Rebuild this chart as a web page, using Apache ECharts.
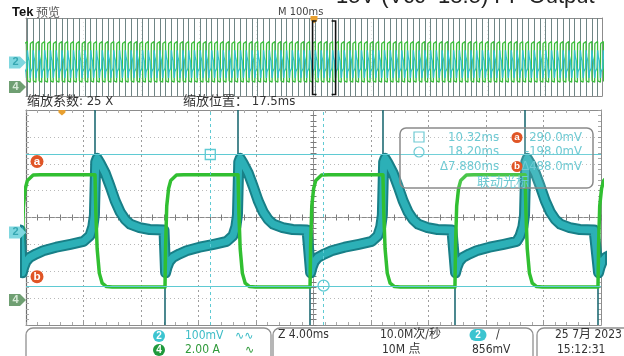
<!DOCTYPE html>
<html>
<head>
<meta charset="utf-8">
<script src="https://cdn.jsdelivr.net/npm/echarts@6/dist/echarts.min.js"></script>
<style>
  html, body { margin: 0; padding: 0; background: #fff; }
  #chart { width: 624px; height: 356px; }
</style>
</head>
<body>
<div id="chart"></div>
<script>
// scope settings
const ch2Scale = 100      // mV/div
const ch2Offset = -0.556  // div from centre
const ch4Scale = 2.0      // A/div
const ch4Offset = -3.07
const mainDiv = 4.0       // ms/div (zoom)
const overviewDiv = 100   // ms/div
const zoomPos = 17.5      // ms, zoom window centre after trigger
const period = 10.0       // ms, switching period seen in the overview
const riseLag = 5.0       // ms, green fall -> green rise

// edge times in the zoom window, ms from its centre
const fallEdges = [-25.2, -15.2, -5.25, 4.83, 14.72, 24.7]   // green falls, ch2 steps up
const riseEdges = [-20.3, -10.33, -0.24, 9.84, 19.79]        // green rises, ch2 drops

// ch2 (mV) around a green falling edge [dt ms, mV]
const cyanStepShape = [
  [-0.35, -12], [-0.15, 22], [-0.04, 65],
  [0.05, 262], [0.15, 276], [0.35, 258], [0.7, 222], [1.05, 172], [1.4, 118],
  [1.75, 76], [2.1, 48], [2.45, 31], [3.1, 18], [3.8, 11], [4.8, 9]
]
// ch2 (mV) after a green rising edge
const cyanDipShape = [
  [0.04, -150], [0.15, -128], [0.3, -108], [0.55, -93], [1.0, -80],
  [1.5, -68], [2.4, -55], [3.4, -44], [4.3, -33]
]
// ch4 (A)
const greenFallShape = [[0, 9.33], [0.06, 6.5], [0.15, 3.8], [0.3, 2.0], [0.5, 1.25], [0.8, 1.0], [1.2, 0.96]]
const greenRiseShape = [[0, 0.96], [0.04, 4.0], [0.12, 7.0], [0.25, 8.3], [0.4, 8.9], [0.8, 9.3], [1.3, 9.33]]

// overview ch2 as drawn (decimated)
const ovCyanStepShape = [[-0.3, -40], [0.1, 125], [1.2, 60], [3.0, 15], [4.6, 5]]
const ovCyanDipShape = [[0.1, -160], [1.0, -95], [4.0, -60]]

const spikeTop = 65     // mV where the ch2 step spike starts
const plateau = 9       // mV where the ch2 drop spike starts

const cursorTimes = [10.32, 18.20]    // ms after trigger
const cursorLevels = [290.0, -198.0]  // mV

const toDiv = (v, scale, offset) => offset + v / scale

function buildTrace(falls, rises, fallShape, riseShape, scale, offset) {
  const pts = []
  falls.forEach(t => fallShape.forEach(p => pts.push([t + p[0], toDiv(p[1], scale, offset)])))
  rises.forEach(t => riseShape.forEach(p => pts.push([t + p[0], toDiv(p[1], scale, offset)])))
  pts.sort((a, b) => a[0] - b[0])
  return pts
}

// main window
const mainCyan = buildTrace(fallEdges, riseEdges, cyanStepShape, cyanDipShape, ch2Scale, ch2Offset)
const mainGreen = buildTrace(fallEdges, riseEdges, greenFallShape, greenRiseShape, ch4Scale, ch4Offset)
const mainSpikes = []
fallEdges.forEach(t => mainSpikes.push({ coords: [[t, 4], [t, toDiv(spikeTop, ch2Scale, ch2Offset)]] }))
riseEdges.forEach(t => mainSpikes.push({ coords: [[t, toDiv(plateau, ch2Scale, ch2Offset)], [t, -4]] }))

// overview: same cycle repeated every period, times after trigger
const ovFirstFall = fallEdges[1] + zoomPos
const ovFalls = []
const ovRises = []
for (let k = -51; k <= 50; k++) {
  ovFalls.push(ovFirstFall + k * period)
  ovRises.push(ovFirstFall + k * period + riseLag)
}
const ovCyan = buildTrace(ovFalls, ovRises, ovCyanStepShape, ovCyanDipShape, ch2Scale, ch2Offset)
const ovGreen = buildTrace(ovFalls, ovRises, greenFallShape, greenRiseShape, ch4Scale, ch4Offset)
const ovSpikes = ovFalls.filter(t => t > -500 && t < 500).map(t => ({ coords: [[t, -4], [t, 4]] }))

const cursorX = cursorTimes.map(t => t - zoomPos)
const cursorY = cursorLevels.map(v => toDiv(v, ch2Scale, ch2Offset))

const cursorColor = '#5fcad3'
const narrow = "'Liberation Sans Narrow','DejaVu Sans Condensed','Noto Sans CJK SC',sans-serif"

function borderAxis(gridIndex, position, min, max, interval, extra) {
  return Object.assign({
    type: 'value', gridIndex, position, min, max, interval,
    axisLine: { show: true, onZero: false, lineStyle: { color: '#8c8c8c', width: 1 } },
    axisTick: { show: false },
    axisLabel: { show: false },
    splitLine: { show: false }
  }, extra)
}

const borderTicks = {
  axisTick: { show: true, inside: true, length: 3, lineStyle: { color: '#999' } },
  minorTick: { show: true, splitNumber: 5, length: 3, lineStyle: { color: '#aaa' } }
}

function centreAxis(gridIndex, position, min, max, interval, onZeroIndex, inside) {
  return {
    type: 'value', gridIndex, position, min, max, interval,
    axisLine: { show: true, onZero: true, onZeroAxisIndex: onZeroIndex, lineStyle: { color: '#8a8a8a', type: [4, 2] } },
    axisTick: { show: true, inside, length: 3, lineStyle: { color: '#7a7a7a' } },
    minorTick: { show: true, splitNumber: 5, length: 3, lineStyle: { color: '#7a7a7a' } },
    axisLabel: { show: false },
    splitLine: { show: false }
  }
}

const option = {
  animation: false,
  backgroundColor: '#ffffff',
  grid: [
    { left: 26, top: 18, width: 576, height: 78, outerBoundsMode: 'none' },
    { left: 26, top: 110, width: 575, height: 215, outerBoundsMode: 'none' }
  ],
  xAxis: [
    borderAxis(0, 'bottom', -5 * overviewDiv, 5 * overviewDiv, overviewDiv, {
      splitLine: { show: true, lineStyle: { color: '#e2e2e2', type: [1, 3] } }
    }),
    borderAxis(0, 'top', -5 * overviewDiv, 5 * overviewDiv, overviewDiv),
    borderAxis(1, 'bottom', -5 * mainDiv, 5 * mainDiv, mainDiv, Object.assign({
      splitLine: { show: true, lineStyle: { color: '#9c9c9c', type: [2, 3] } }
    }, borderTicks)),
    borderAxis(1, 'top', -5 * mainDiv, 5 * mainDiv, mainDiv, borderTicks),
    centreAxis(1, 'bottom', -5 * mainDiv, 5 * mainDiv, mainDiv, 2, true),
    centreAxis(1, 'bottom', -5 * mainDiv, 5 * mainDiv, mainDiv, 2, false)
  ],
  yAxis: [
    borderAxis(0, 'left', -4, 4, 1),
    borderAxis(0, 'right', -4, 4, 1),
    borderAxis(1, 'left', -4, 4, 1, Object.assign({
      axisLine: { show: true, onZero: false, lineStyle: { color: '#6e6e6e', width: 1.2 } },
      splitLine: { show: true, lineStyle: { color: '#b9b9b9', type: [1, 3] } }
    }, borderTicks)),
    borderAxis(1, 'right', -4, 4, 1, borderTicks),
    centreAxis(1, 'left', -4, 4, 1, 2, true),
    centreAxis(1, 'left', -4, 4, 1, 2, false)
  ],
  series: [
    {
      type: 'lines', coordinateSystem: 'cartesian2d', xAxisIndex: 0, yAxisIndex: 0,
      data: ovSpikes, silent: true, lineStyle: { color: '#6f8585', width: 1, opacity: 1 }
    },
    {
      type: 'line', xAxisIndex: 0, yAxisIndex: 0, data: ovGreen, symbol: 'none', silent: true,
      lineStyle: { color: '#3cbd3c', width: 1.3 }
    },
    {
      type: 'line', xAxisIndex: 0, yAxisIndex: 0, data: ovCyan, symbol: 'none', silent: true,
      lineStyle: { color: '#34c2cb', width: 1.4 }
    },
    {
      type: 'line', xAxisIndex: 2, yAxisIndex: 2, data: mainCyan, symbol: 'none', silent: true,
      lineStyle: { color: '#187f87', width: 11, join: 'round', cap: 'round' }
    },
    {
      type: 'line', xAxisIndex: 2, yAxisIndex: 2, data: mainCyan, symbol: 'none', silent: true,
      lineStyle: { color: '#2cb0b7', width: 7, join: 'round', cap: 'round' }
    },
    {
      type: 'lines', coordinateSystem: 'cartesian2d', xAxisIndex: 2, yAxisIndex: 2,
      data: mainSpikes, silent: true, lineStyle: { color: '#1f6b74', width: 1.6, opacity: 1 }
    },
    {
      type: 'line', xAxisIndex: 2, yAxisIndex: 2, data: mainGreen, symbol: 'none', silent: true,
      lineStyle: { color: '#31bf31', width: 3.5, join: 'round' },
      markLine: {
        silent: true, symbol: 'none', label: { show: false },
        data: [
          { yAxis: cursorY[0], lineStyle: { color: cursorColor, width: 1, type: 'solid' } },
          { yAxis: cursorY[1], lineStyle: { color: cursorColor, width: 1, type: 'solid' } },
          { xAxis: cursorX[0], lineStyle: { color: cursorColor, width: 1, type: [3, 3] } },
          { xAxis: cursorX[1], lineStyle: { color: cursorColor, width: 1, type: [3, 3] } }
        ]
      },
      markPoint: {
        silent: true, label: { show: false },
        itemStyle: { color: 'rgba(0,0,0,0)', borderColor: cursorColor, borderWidth: 1.3 },
        data: [
          { coord: [cursorX[0], cursorY[0]], symbol: 'rect', symbolSize: 10 },
          { coord: [cursorX[1], cursorY[1]], symbol: 'circle', symbolSize: 11 }
        ]
      }
    }
  ]
}

const chart = echarts.init(document.getElementById('chart'), null, { renderer: 'canvas' })
chart.setOption(option)

// overlay: labels, readout and status bar
const ovPx = (x, y) => chart.convertToPixel({ seriesIndex: 1 }, [x, y])
const mainPx = (x, y) => chart.convertToPixel({ seriesIndex: 6 }, [x, y])

function text(str, x, y, font, fill, align) {
  return { type: 'text', x, y, z: 100, silent: true,
    style: { text: str, font, fill, align: align || 'left', verticalAlign: 'middle' } }
}
function chanTag(num, x0, y, fill, textFill) {
  return [
    { type: 'polygon', z: 100, shape: { points: [[x0, y - 6], [x0 + 11, y - 6], [x0 + 17, y], [x0 + 11, y + 6], [x0, y + 6]] }, style: { fill } },
    text(num, x0 + 6.5, y, "bold 11px 'Liberation Sans',sans-serif", textFill, 'center')
  ]
}
function dot(letter, cx, cy, r) {
  return [
    { type: 'circle', z: 100, shape: { cx, cy, r }, style: { fill: '#e05526' } },
    text(letter, cx, cy, "bold " + (r * 1.8) + "px 'Liberation Sans',sans-serif", '#fff', 'center')
  ]
}
function pill(num, x, y, w, fill) {
  return [
    { type: 'rect', z: 100, shape: { x: x - w / 2, y: y - 6, width: w, height: 12, r: 6 }, style: { fill } },
    text(num, x, y, "bold 10px 'Liberation Sans',sans-serif", '#fff', 'center')
  ]
}
function box(x, y, w, h) {
  return { type: 'rect', z: 90, shape: { x, y, width: w, height: h, r: 7 },
    style: { fill: 'none', stroke: '#909090', lineWidth: 1.3 } }
}

const g = []
const ch2Ov = ovPx(0, ch2Offset)[1]
const ch4Ov = ovPx(0, ch4Offset)[1]
const ch2Main = mainPx(0, ch2Offset)[1]
const ch4Main = mainPx(0, ch4Offset)[1]

// big title cut by the top edge
g.push({ type: 'text', x: 336, y: 8, z: 100, silent: true,
  style: { text: '15V (Vcc=18.5) PF Output', font: "22px 'Liberation Sans',sans-serif", fill: '#222', align: 'left', verticalAlign: 'bottom' } })
g.push(text('Tek', 12, 12, "bold 13px 'Liberation Sans',sans-serif", '#111'))
g.push(text('预览', 36, 12, "12px 'Noto Sans CJK SC',sans-serif", '#555'))
g.push(text('M ' + overviewDiv + 'ms', 278, 12, "11px " + narrow, '#444'))

// trigger marks
const trigOv = ovPx(0, 4)
g.push({ type: 'polygon', z: 100, shape: { points: [[trigOv[0] - 3.5, trigOv[1] - 2], [trigOv[0] + 3.5, trigOv[1] - 2], [trigOv[0] + 3.5, trigOv[1] + 2], [trigOv[0], trigOv[1] + 5.5], [trigOv[0] - 3.5, trigOv[1] + 2]] }, style: { fill: '#e8a030' } })
const trigMain = mainPx(-zoomPos, 4)
g.push({ type: 'polygon', z: 100, shape: { points: [[trigMain[0] - 3.5, trigMain[1]], [trigMain[0] + 3.5, trigMain[1]], [trigMain[0] + 3.5, trigMain[1] + 2.5], [trigMain[0], trigMain[1] + 5.5], [trigMain[0] - 3.5, trigMain[1] + 2.5]] }, style: { fill: '#e8a030' } })

// zoom window brackets in the overview
const bl = ovPx(zoomPos - 5 * mainDiv, 4)
const br = ovPx(zoomPos + 5 * mainDiv, -4)
const bTop = bl[1] + 3
const bBot = br[1] - 1.5
g.push({ type: 'polyline', z: 100, shape: { points: [[bl[0] + 4, bTop], [bl[0], bTop], [bl[0], bBot], [bl[0] + 4, bBot]] }, style: { stroke: '#111', lineWidth: 1.6, fill: 'none' } })
g.push({ type: 'polyline', z: 100, shape: { points: [[br[0] - 4, bTop], [br[0], bTop], [br[0], bBot], [br[0] - 4, bBot]] }, style: { stroke: '#111', lineWidth: 1.6, fill: 'none' } })

// channel tags
g.push(...chanTag('2', 9, ch2Ov, '#7fd7df', '#36a7b2'))
g.push(...chanTag('4', 9, ch4Ov, '#6f9f72', '#d8ead8'))
g.push(...chanTag('2', 9, ch2Main, '#7fd7df', '#36a7b2'))
g.push(...chanTag('4', 9, ch4Main, '#6f9f72', '#d8ead8'))

// zoom info row
const zoomFactor = overviewDiv / mainDiv
g.push(text('缩放系数: ' + zoomFactor + ' X', 27, 102, "13px " + narrow, '#333'))
g.push(text('缩放位置： ' + zoomPos + 'ms', 183, 102, "13px " + narrow, '#333'))

// cursor a / b tags on the left
g.push(...dot('a', 37, mainPx(0, cursorY[0])[1] + 7, 6.5))
g.push(...dot('b', 37, mainPx(0, cursorY[1])[1] - 9, 6.5))

// cursor readout
const rf = "13px " + narrow
const rc = '#6fcad3'
g.push({ type: 'rect', z: 95, shape: { x: 400, y: 128, width: 193, height: 60, r: 6 }, style: { fill: 'rgba(255,255,255,0.12)', stroke: '#8a8a8a', lineWidth: 1.5 } })
g.push({ type: 'rect', z: 100, shape: { x: 414, y: 132, width: 10, height: 10 }, style: { fill: 'none', stroke: rc, lineWidth: 1.2 } })
g.push({ type: 'circle', z: 100, shape: { cx: 419, cy: 152, r: 5 }, style: { fill: 'none', stroke: rc, lineWidth: 1.2 } })
g.push(text(cursorTimes[0].toFixed(2) + 'ms', 499, 137.5, rf, rc, 'right'))
g.push(text(cursorTimes[1].toFixed(2) + 'ms', 499, 152, rf, rc, 'right'))
g.push(text('Δ' + (cursorTimes[1] - cursorTimes[0]).toFixed(3) + 'ms', 499, 166.5, rf, rc, 'right'))
g.push(text(cursorLevels[0].toFixed(1) + 'mV', 582, 137.5, rf, rc, 'right'))
g.push(text(cursorLevels[1].toFixed(1) + 'mV', 582, 152, rf, rc, 'right'))
g.push(text('Δ' + (cursorLevels[0] - cursorLevels[1]).toFixed(1) + 'mV', 582, 166.5, rf, rc, 'right'))
g.push(...dot('a', 517, 137.5, 5.5))
g.push(...dot('b', 517, 166.5, 5.5))
g.push(text('联动光标', 503, 181, "13px 'Noto Sans CJK SC',sans-serif", rc, 'center'))

// status bar
const sf = "12px " + narrow
g.push(box(26, 328, 245, 36), box(273, 328, 260, 36), box(537, 328, 95, 36))
g.push(...pill('2', 159, 336, 12, '#3cc4d0'))
g.push(text(ch2Scale + 'mV', 185, 336, sf, '#3cbcc6'))
g.push(text('∿∿', 235, 336, "11px 'DejaVu Sans',sans-serif", '#3cbcc6'))
g.push(...pill('4', 159, 350, 12, '#1f9a3c'))
g.push(text(ch4Scale.toFixed(2) + ' A', 185, 350, sf, '#2f9a3a'))
g.push(text('∿', 245, 350, "11px 'DejaVu Sans',sans-serif", '#2f9a3a'))
g.push(text('Z ' + mainDiv.toFixed(2) + 'ms', 278, 335, sf, '#333'))
g.push(text('10.0M次/秒', 380, 335, sf, '#333'))
g.push(text('10M 点', 382, 350, sf, '#333'))
g.push(...pill('2', 478, 335, 17, '#3cc4d0'))
g.push(text('/', 496, 335, sf, '#333'))
g.push(text('856mV', 472, 350, sf, '#333'))
g.push(text('25 7月 2023', 555, 335, sf, '#333'))
g.push(text('15:12:31', 557, 350, sf, '#333'))

chart.setOption({ graphic: g })
</script>
</body>
</html>
